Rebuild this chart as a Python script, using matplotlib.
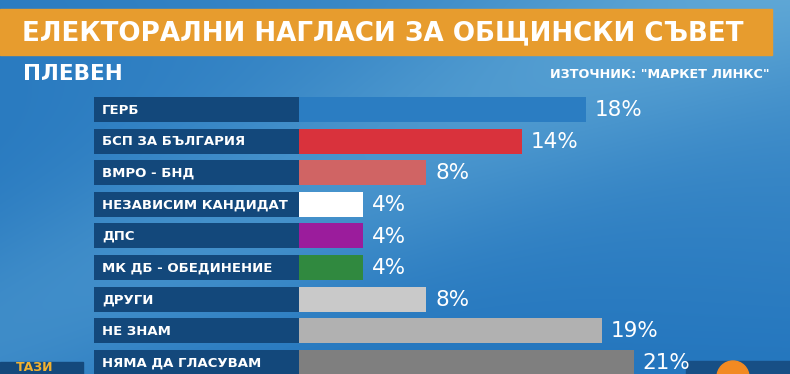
import numpy as np
import matplotlib
matplotlib.use("Agg")
import matplotlib.pyplot as plt
from matplotlib.patches import Rectangle, Circle

plt.rcParams['font.family'] = ['DejaVu Sans']

# data
parties = ["ГЕРБ", "БСП ЗА БЪЛГАРИЯ", "ВМРО - БНД", "НЕЗАВИСИМ КАНДИДАТ", "ДПС",
           "МК ДБ - ОБЕДИНЕНИЕ", "ДРУГИ", "НЕ ЗНАМ", "НЯМА ДА ГЛАСУВАМ"]
values = [18, 14, 8, 4, 4, 4, 8, 19, 21]
colors = ["#2b7dc2", "#d9323c", "#d06464", "#ffffff", "#9b1c9c",
          "#30893f", "#c9c9c9", "#b1b1b1", "#7f7f7f"]
title = "ЕЛЕКТОРАЛНИ НАГЛАСИ ЗА ОБЩИНСКИ СЪВЕТ"
city = "ПЛЕВЕН"
source = 'ИЗТОЧНИК: "МАРКЕТ ЛИНКС"'

W, H = 790, 374
fig = plt.figure(figsize=(W / 100, H / 100), dpi=100)

# background in pixel coords
bg = fig.add_axes([0, 0, 1, 1])
bg.set_xlim(0, W)
bg.set_ylim(H, 0)
bg.axis('off')

yy, xx = np.mgrid[0:H, 0:W]
t = xx / W
s = yy / H
streak = np.exp(-((xx * 0.45 + yy - 330) / 120.0) ** 2)
light = 0.35 * t * (1 - s) + 0.35 * streak + 0.1 * (1 - s)
dark = np.array([36, 118, 190]) / 255
lite = np.array([110, 180, 220]) / 255
img = dark + np.clip(light, 0, 1)[..., None] * (lite - dark)
bg.imshow(img, extent=(0, W, H, 0), aspect='auto', zorder=0)

# title banner
bg.add_patch(Rectangle((0, 9), 772, 46, color="#e79c2e", zorder=1))
bg.text(22, 33, title, color="white", fontsize=18.8, fontweight='bold',
        va='center', ha='left', zorder=2)
bg.text(23, 74, city, color="white", fontsize=15.5, fontweight='bold',
        va='center', ha='left')
bg.text(770, 74, source, color="white", fontsize=9.2, fontweight='bold',
        va='center', ha='right')

# bottom corner elements
bg.add_patch(Rectangle((0, 362), 83, 20, color="#14497c", zorder=1))
bg.text(16, 374, "ТАЗИ", color="#f2b230", fontsize=9, fontweight='bold',
        va='bottom', ha='left', zorder=2)
bg.add_patch(Rectangle((686, 361), 110, 20, color="#174f85", zorder=1))
bg.add_patch(Circle((733, 377), 16, color="#f28a22", zorder=2))

# bars in percent units: 0% at pixel 299, 15.93 px per percent
px0, ppp = 299, 15.93
row0, rowh = 109.5, 31.6
ax = fig.add_axes([0, 0, 1, 1])
ax.patch.set_alpha(0)
ax.set_xlim(-px0 / ppp, (W - px0) / ppp)
ax.set_ylim((H - row0) / rowh, -row0 / rowh)
ax.axis('off')

ypos = np.arange(len(parties))
label_w = 205 / ppp
ax.barh(ypos, [label_w] * len(parties), left=-label_w, height=0.79,
        color="#13487b")
ax.barh(ypos, values, left=0, height=0.79, color=colors)
for y, name, v in zip(ypos, parties, values):
    ax.text(-label_w + 8 / ppp, y + 0.02, name, color="white", fontsize=9.5,
            fontweight='bold', va='center', ha='left')
    ax.text(v + 9 / ppp, y + 0.02, f"{v}%", color="white", fontsize=15.5,
            va='center', ha='left')

fig.savefig("out.png", dpi=100)
